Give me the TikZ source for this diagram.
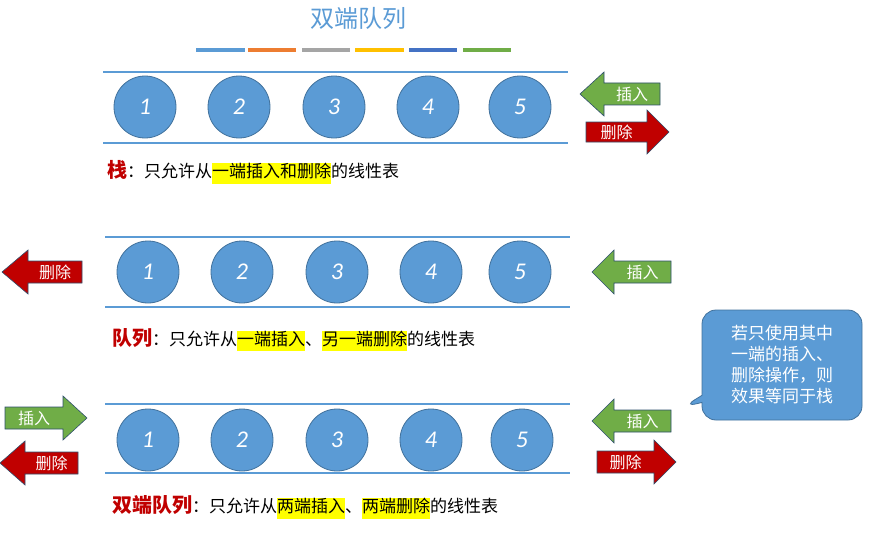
\documentclass[tikz,border=0pt]{standalone}
\usepackage{fontspec}
\setmainfont{Noto Sans CJK SC}
\newfontfamily\numfont{Carlito}
\usetikzlibrary{shapes.callouts}
\definecolor{qblue}{HTML}{5B9BD5}
\definecolor{qedge}{HTML}{41719C}
\definecolor{qgreen}{HTML}{70AD47}
\definecolor{qred}{HTML}{C00000}
\definecolor{qorange}{HTML}{ED7D31}
\definecolor{qgray}{HTML}{A5A5A5}
\definecolor{qgold}{HTML}{FFC000}
\definecolor{qdblue}{HTML}{4472C4}
\definecolor{qhl}{HTML}{FFFF00}
\newcommand\qhi[1]{{\setlength{\fboxsep}{0pt}\colorbox{qhl}{\strut #1}}}
% tipx, y, headbase x, body end x, half body, half head, color, text
\newcommand\qarr[8]{%
  \fill[#7,draw=qedge!70!black,line width=0.6] (#1,#2) -- (#3,#2-#6) -- (#3,#2-#5) -- (#4,#2-#5) -- (#4,#2+#5) -- (#3,#2+#5) -- (#3,#2+#6) -- cycle;
  \node[text=white,font=\fontsize{16}{16}\selectfont] at ({(#3+#4)/2},#2) {#8};}
\tikzset{
  rail/.style={qblue,line width=2.2},
  ball/.style={circle,fill=qblue,draw=qedge,line width=0.8,minimum size=62,inner sep=0,text=white,font=\numfont\itshape\fontsize{24}{24}\selectfont},
  desc/.style={anchor=west,inner sep=0,font=\fontsize{17}{20}\selectfont},
  bar/.style={line width=4}
}
\begin{document}
\begin{tikzpicture}[x=1pt,y=-1pt]
\useasboundingbox (0,0) rectangle (874,532);
\node[text=qblue,font=\fontsize{24}{24}\selectfont] (title) at (358,18) {双端队列};
\draw[bar,qblue] (196,50) -- (245,50);
\draw[bar,qorange] (248,50) -- (296,50);
\draw[bar,qgray] (302,50) -- (350,50);
\draw[bar,qgold] (355,50) -- (404,50);
\draw[bar,qdblue] (409,50) -- (457,50);
\draw[bar,qgreen] (463,50) -- (511,50);
% row 1
\draw[rail] (103,72) -- (568,72);
\draw[rail] (103,143) -- (568,143);
\foreach \x/\n in {145/1,239/2,334/3,428/4,520/5} \node[ball] (a\n) at (\x,107) {\n};
\qarr{580}{94}{604}{660}{11}{22}{qgreen}{插入}
\qarr{669}{132}{647}{586}{10}{22}{qred}{删除}
\node[desc] (t1) at (107,172) {\textcolor{qred}{\fontsize{20}{20}\selectfont\bfseries 栈}：只允许从\qhi{一端插入和删除}的线性表};
% row 2
\draw[rail] (105,237) -- (570,237);
\draw[rail] (105,307) -- (570,307);
\foreach \x/\n in {148/1,242/2,337/3,431/4,520/5} \node[ball] (b\n) at (\x,272) {\n};
\qarr{2}{272}{28}{82}{11}{22}{qred}{删除}
\qarr{592}{272}{614}{671}{11}{22}{qgreen}{插入}
\node[desc] (t2) at (112,340) {\textcolor{qred}{\fontsize{20}{20}\selectfont\bfseries 队列}：只允许从\qhi{一端插入}、\qhi{另一端删除}的线性表};
% row 3
\draw[rail] (105,404) -- (570,404);
\draw[rail] (105,473) -- (570,473);
\foreach \x/\n in {148/1,242/2,337/3,431/4,522/5} \node[ball] (c\n) at (\x,440) {\n};
\qarr{87}{418}{63}{5}{11}{22}{qgreen}{插入}
\qarr{0}{463}{25}{78}{11}{22}{qred}{删除}
\qarr{592}{421}{614}{671}{11}{22}{qgreen}{插入}
\qarr{676}{462}{654}{597}{11}{22}{qred}{删除}
\node[desc] (t3) at (112,507) {\textcolor{qred}{\fontsize{20}{20}\selectfont\bfseries 双端队列}：只允许从\qhi{两端插入}、\qhi{两端删除}的线性表};
% callout
\node[rectangle callout, fill=qblue, draw=qedge, line width=0.8, minimum width=160, minimum height=110, rounded corners=14, inner sep=0, callout absolute pointer={(683,407)}, text=white, align=center, font=\fontsize{17}{21}\selectfont] (note) at (782,365) {若只使用其中\\一端的插入、\\删除操作，则\\效果等同于栈};
\end{tikzpicture}
\end{document}
